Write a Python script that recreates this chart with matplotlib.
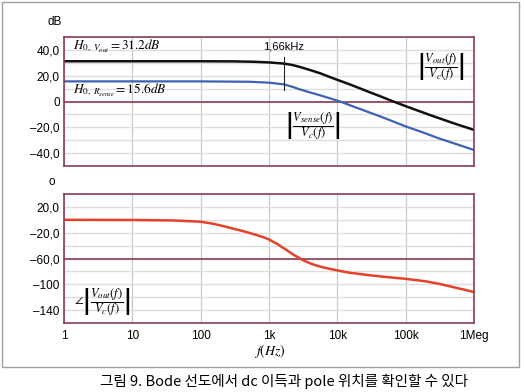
import matplotlib
matplotlib.use('Agg')
import matplotlib.pyplot as plt
from matplotlib.patches import Rectangle

# magnitude |Vout/Vc| (dB)
freq_out = [1, 10, 100, 300, 600, 1000, 1660, 2200, 2840, 4000, 5600, 7500, 10000, 15000, 21000,
            30000, 40000, 62000, 100000, 225000, 500000, 1e6]
mag_out = [31.2, 31.2, 31.2, 31.1, 30.8, 30.3, 29.4, 28.3, 26.8, 24.4, 21.9, 19.3, 16.8, 13.4, 10.4,
           7.1, 4.6, 0.6, -3.6, -10.4, -16.8, -22.0]

# magnitude |Vsense/Vc| (dB)
freq_sense = [1, 10, 100, 525, 1000, 1660, 2200, 2840, 4000, 5600, 8000, 11000, 18000, 30000,
              50000, 100000, 180000, 300000, 550000, 1e6]
mag_sense = [15.6, 15.6, 15.6, 15.3, 14.6, 13.3, 11.4, 9.4, 7.0, 4.8, 2.3, 0.0, -4.3, -8.6,
             -13.0, -19.3, -24.0, -28.4, -33.0, -37.6]

# phase of Vout/Vc (deg)
freq_ph = [1, 10, 40, 100, 150, 200, 270, 400, 525, 700, 850, 1000, 1300, 1700, 2200, 2840, 3500,
           4500, 5600, 7000, 10000, 15000, 30000, 50000, 100000, 200000, 316000, 527000, 700000, 1e6]
phase = [0, -0.3, -1, -3, -6, -9, -12.5, -17, -20.5, -24.5, -27.5, -30.5, -37, -45, -53, -60, -65,
         -69.5, -72.5, -75, -78.5, -82, -86, -88.5, -91.5, -95.5, -99.5, -105, -108, -112]

x_ticks = [1, 10, 100, 1e3, 1e4, 1e5, 1e6]
x_labels = ['1', '10', '100', '1k', '10k', '100k', '1Meg']
mag_ticks = [40, 20, 0, -20, -40]
mag_labels = ['40,0', '20,0', '0', '–20,0', '–40,0']
ph_ticks = [20, -20, -60, -100, -140]
ph_labels = ['20,0', '–20,0', '–60,0', '–100', '–140']

pole_f = 1660

plt.rcParams['font.family'] = ['Liberation Sans', 'Noto Sans CJK KR']
plt.rcParams['mathtext.fontset'] = 'stix'

frame = '#8a3d57'

fig = plt.figure(figsize=(5.24, 3.92), dpi=100)
fig.patches.append(Rectangle((2/524, 1-367/392), 517/524, 365/392, transform=fig.transFigure,
                             fill=False, edgecolor='#a0a0a0', lw=1))

ax1 = fig.add_axes([0.1221, 0.5765, 0.7824, 0.3291])
ax2 = fig.add_axes([0.1221, 0.1760, 0.7824, 0.3291])

def style(ax, ylim, ticks, labels, minor):
    ax.set_xscale('log')
    ax.set_xlim(1, 1e6)
    ax.set_ylim(*ylim)
    ax.set_xticks(x_ticks)
    ax.set_xticklabels(x_labels)
    ax.xaxis.set_minor_locator(matplotlib.ticker.NullLocator())
    ax.set_yticks(ticks)
    ax.set_yticklabels(labels)
    ax.set_yticks(minor, minor=True)
    ax.tick_params(length=0, labelsize=8.5, pad=3, which='both')
    ax.tick_params(axis='x', pad=5)
    ax.grid(True, axis='y', which='both', color='#dddddd', lw=1)
    ax.grid(True, axis='x', which='major', color='#c8c8c8', lw=0.9)
    for s in ax.spines.values():
        s.set_color(frame)
        s.set_linewidth(1.2)
    ax.set_axisbelow(True)

style(ax1, (-50, 50), mag_ticks, mag_labels, list(range(-50, 51, 10)))
ax1.set_xticklabels([])
ax1.axhline(0, color=frame, lw=1.2)
ax1.plot(freq_out, mag_out, color='#111111', lw=1.8)
ax1.plot(freq_sense, mag_sense, color='#3a62b5', lw=1.6)
ax1.plot([pole_f, pole_f], [34.5, 9], color='#222222', lw=0.8)
ax1.text(pole_f, 43, '1,66kHz', ha='center', va='center', fontsize=8)
ax1.text(1.35, 43, r'$H_{0,\ V_{out}}=31.2dB$', ha='left', va='center', fontsize=9.5)
ax1.text(1.35, 9, r'$H_{0,\ R_{sense}}=15.6dB$', ha='left', va='center', fontsize=9.5)
ax1.text(330000, 27, r'$\left|\dfrac{V_{out}(f)}{V_c(f)}\right|$', ha='center', va='center', fontsize=9)
ax1.text(4300, -19, r'$\left|\dfrac{V_{sense}(f)}{V_c(f)}\right|$', ha='center', va='center', fontsize=9)

style(ax2, (-160, 40), ph_ticks, ph_labels, list(range(-160, 41, 20)))
ax2.axhline(-60, color=frame, lw=1.2)
ax2.plot(freq_ph, phase, color='#e8402a', lw=1.8)
ax2.text(3.6, -128, r'$\angle\left|\dfrac{V_{out}(f)}{V_c(f)}\right|$', ha='center', va='center', fontsize=9)

fig.text(55/524, 1-22/392, 'dB', ha='center', va='center', fontsize=8.5)
fig.text(52/524, 1-182/392, 'o', ha='center', va='center', fontsize=8.5)
fig.text(270/524, 1-351/392, r'$f(Hz)$', ha='center', va='center', fontsize=10)
fig.text(284/524, 1-381/392, '그림 9. Bode 선도에서 dc 이득과 pole 위치를 확인할 수 있다',
         ha='center', va='center', fontsize=10.5, family=['Noto Sans CJK KR'])

fig.savefig('out.png', dpi=100)
